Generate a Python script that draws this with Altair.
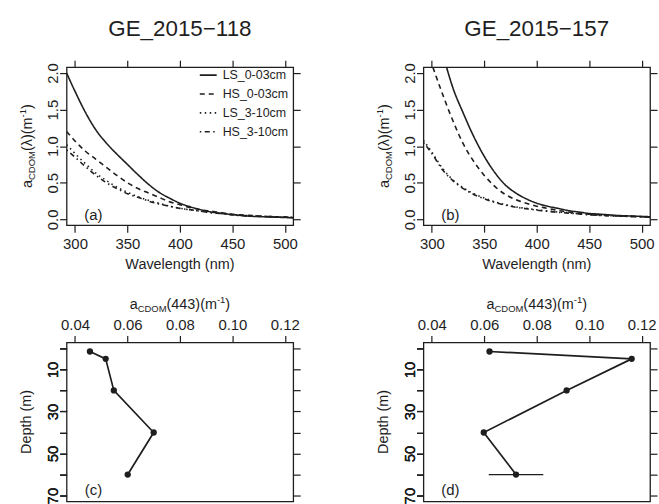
import altair as alt
import pandas as pd

FONT = "Liberation Sans"
INK = "#1e1e1e"

# ---------------- data ----------------
SERIES = ["LS_0-03cm", "HS_0-03cm", "LS_3-10cm", "HS_3-10cm"]
DASHES = [[1, 0], [5, 4], [1.5, 3.5], [1.5, 3.5, 5, 3.5]]

WL = [292, 300, 310, 320, 330, 340, 350, 360, 370, 380, 390, 400,
      410, 420, 430, 440, 450, 460, 470, 480, 490, 500, 508]

# GE_2015-118  (panel a)
A_LS0 = [2.00, 1.75, 1.46, 1.22, 1.04, 0.89, 0.75, 0.61, 0.48, 0.37, 0.29, 0.22,
         0.17, 0.13, 0.10, 0.08, 0.065, 0.05, 0.04, 0.035, 0.03, 0.025, 0.02]
A_HS0 = [1.20, 1.07, 0.93, 0.82, 0.71, 0.60, 0.50, 0.42, 0.36, 0.30, 0.24, 0.20,
         0.16, 0.13, 0.11, 0.09, 0.07, 0.06, 0.05, 0.04, 0.035, 0.03, 0.025]
A_LS3 = [1.02, 0.90, 0.76, 0.63, 0.53, 0.44, 0.37, 0.31, 0.26, 0.22, 0.18, 0.15,
         0.13, 0.11, 0.09, 0.08, 0.065, 0.055, 0.045, 0.04, 0.035, 0.03, 0.025]
A_HS3 = [0.95, 0.85, 0.72, 0.60, 0.50, 0.42, 0.35, 0.30, 0.25, 0.21, 0.18, 0.15,
         0.13, 0.11, 0.09, 0.08, 0.06, 0.05, 0.045, 0.04, 0.035, 0.03, 0.025]

# GE_2015-157  (panel b)
WL_B_LS0 = [314, 320, 330, 340, 350, 360, 370, 380, 390, 400, 410, 420,
            430, 440, 450, 460, 470, 480, 490, 500, 508]
B_LS0 = [2.08, 1.80, 1.45, 1.13, 0.86, 0.64, 0.47, 0.36, 0.28, 0.22, 0.18, 0.15,
         0.12, 0.10, 0.08, 0.07, 0.06, 0.05, 0.045, 0.04, 0.035]
WL_B_HS0 = [301, 310, 320, 330, 340, 350, 360, 370, 380, 390, 400, 410,
            420, 430, 440, 450, 460, 470, 480, 490, 500, 508]
B_HS0 = [2.08, 1.72, 1.35, 1.03, 0.79, 0.60, 0.45, 0.34, 0.27, 0.22, 0.18, 0.15,
         0.12, 0.10, 0.085, 0.07, 0.06, 0.05, 0.045, 0.04, 0.035, 0.03]
B_LS3 = [1.08, 0.92, 0.70, 0.54, 0.43, 0.35, 0.29, 0.24, 0.20, 0.17, 0.15, 0.13,
         0.115, 0.10, 0.09, 0.075, 0.065, 0.055, 0.05, 0.045, 0.04, 0.035, 0.03]
B_HS3 = [1.05, 0.90, 0.68, 0.53, 0.42, 0.34, 0.28, 0.23, 0.195, 0.165, 0.145, 0.125,
         0.11, 0.095, 0.085, 0.072, 0.062, 0.054, 0.048, 0.043, 0.038, 0.034, 0.03]

# depth profiles (panels c, d)
DEPTH = [1.5, 5, 20, 40, 60]
C_VAL = [0.0457, 0.0517, 0.0548, 0.0700, 0.0601]
C_ERR = [0, 0, 0, 0, 0]
D_VAL = [0.0620, 0.1162, 0.0914, 0.0598, 0.0721]
D_ERR = [0, 0, 0, 0, 0.0104]

X_TICKS_TOP = [300, 350, 400, 450, 500]
Y_TICKS_TOP = [0, 0.5, 1.0, 1.5, 2.0]
X_TICKS_BOT = [0.04, 0.06, 0.08, 0.10, 0.12]
Y_TICKS_BOT = [0, 10, 20, 30, 40, 50, 60, 70]

# ---------------- layout ----------------
W, HT, HB = 228, 159, 160

AX = dict(title=None, domain=False, grid=False, ticks=True, tickSize=7,
          tickWidth=1.2, tickColor=INK, labelFont=FONT, labelFontSize=15,
          labelColor=INK)

CW = {'a': 556, 'C': 722, 'D': 722, 'O': 778, 'M': 833, '(': 333, ')': 333,
      'λ': 500, 'm': 833, '-': 333, '1': 556, '4': 556, '3': 556}


def tw(s, size):
    return sum(CW.get(c, 556) for c in s) / 1000.0 * size


def txt(s, x, y, size, angle=0, align="center", baseline="alphabetic", dx=0, dy=0):
    kw = dict(align=align, baseline=baseline, fontSize=size, font=FONT,
              color=INK, dx=dx, dy=dy)
    if angle:
        kw["angle"] = angle
    return alt.Chart(pd.DataFrame({"t": [s]})).mark_text(**kw).encode(
        x=alt.value(x), y=alt.value(y), text="t:N")


def composite(pieces, x, y, angle=0):
    total = sum(tw(t, s) for t, s, _ in pieces)
    off = -total / 2.0
    out = []
    for t, s, sh in pieces:
        out.append(txt(t, x, y, s, angle=angle, align="left", dx=off, dy=sh))
        off += tw(t, s)
    return out


def spectra_df(entries):
    rows = []
    for name, wl, vals in entries:
        for w, v in zip(wl, vals):
            rows.append({"series": name, "wl": w, "a": v})
    return pd.DataFrame(rows)


def top_panel(entries, title, label, legend):
    df = spectra_df(entries)
    xs = alt.Scale(domain=[292, 508], nice=False, zero=False)
    ys = alt.Scale(domain=[-0.08, 2.08], nice=False, zero=False)
    if legend:
        leg = alt.Legend(orient="none", legendX=133, legendY=-1.5, title=None,
                         symbolType="stroke", symbolSize=289, symbolStrokeWidth=1.6,
                         symbolStrokeColor=INK, labelFont=FONT, labelFontSize=12.5,
                         labelColor=INK, rowPadding=3, labelOffset=5, padding=0)
    else:
        leg = None
    lines = alt.Chart(df).mark_line(clip=True, strokeWidth=1.6, color=INK,
                                    interpolate="monotone").encode(
        x=alt.X("wl:Q", scale=xs,
                axis=alt.Axis(orient="bottom", values=X_TICKS_TOP, labelPadding=4, **AX)),
        y=alt.Y("a:Q", scale=ys,
                axis=alt.Axis(orient="left", values=Y_TICKS_TOP, format=".1f",
                              labelAngle=270, labelAlign="center",
                              labelBaseline="alphabetic", labelPadding=2, **AX)),
        strokeDash=alt.StrokeDash("series:N", scale=alt.Scale(domain=SERIES, range=DASHES),
                                  legend=leg),
        detail="series:N",
    )
    ghost = alt.Chart(df).mark_point(opacity=0).encode(
        x=alt.X("wl:Q", scale=xs,
                axis=alt.Axis(orient="top", values=X_TICKS_TOP, labels=False, **AX)),
        y=alt.Y("a:Q", scale=ys,
                axis=alt.Axis(orient="right", values=Y_TICKS_TOP, labels=False, **AX)),
    )
    texts = [txt(title, W / 2, -31, 22.5),
             txt("Wavelength (nm)", W / 2, HT + 40, 14.5, baseline="middle"),
             txt(label, 27, 148.6, 15, baseline="middle")]
    texts += composite([("a", 14.5, 0), ("CDOM", 9.5, 3.5), ("(λ)(m", 14.5, 0),
                        ("-1", 9.5, -6), (")", 14.5, 0)], -35, HT / 2, angle=270)
    return alt.layer(lines, ghost, *texts).properties(width=W, height=HT)


def depth_panel(vals, errs, label):
    lo = [v - e for v, e in zip(vals, errs)]
    hi = [v + e for v, e in zip(vals, errs)]
    df = pd.DataFrame({"depth": DEPTH, "v": vals, "lo": lo, "hi": hi})
    xs = alt.Scale(domain=[0.0368, 0.1232], nice=False, zero=False)
    ys = alt.Scale(domain=[-2.8, 72.8], nice=False, zero=False, reverse=True)
    x_axis = alt.Axis(orient="top", values=X_TICKS_BOT, format=".2f",
                      labelBaseline="alphabetic", labelPadding=6, **AX)
    y_axis = alt.Axis(orient="left", values=Y_TICKS_BOT, labelAngle=270,
                      labelAlign="center", labelBaseline="alphabetic",
                      labelPadding=2,
                      labelExpr="datum.value % 20 == 10 ? datum.label : ''", **AX)
    y_axis_r = alt.Axis(orient="right", values=Y_TICKS_BOT, labels=False, **AX)
    base = alt.Chart(df)
    line = base.mark_line(strokeWidth=1.7, color=INK).encode(
        x=alt.X("v:Q", scale=xs, axis=x_axis),
        y=alt.Y("depth:Q", scale=ys, axis=y_axis),
        order="depth:Q",
    )
    err = base.transform_filter("datum.hi > datum.lo").mark_rule(
        strokeWidth=1.2, color=INK).encode(
        x=alt.X("lo:Q", scale=xs, axis=x_axis), x2="hi:Q",
        y=alt.Y("depth:Q", scale=ys, axis=y_axis))
    pts = base.mark_circle(size=40, color=INK, opacity=1).encode(
        x=alt.X("v:Q", scale=xs, axis=x_axis),
        y=alt.Y("depth:Q", scale=ys, axis=y_axis))
    ghost = base.mark_point(opacity=0).encode(
        x=alt.X("v:Q", scale=xs, axis=x_axis),
        y=alt.Y("depth:Q", scale=ys, axis=y_axis_r),
    )
    texts = [txt("Depth (m)", -36, HB / 2, 14.5, angle=270),
             txt(label, 27, 148.6, 15, baseline="middle")]
    texts += composite([("a", 14.5, 0), ("CDOM", 9.5, 3.5), ("(443)(m", 14.5, 0),
                        ("-1", 9.5, -6), (")", 14.5, 0)], W / 2, -34)
    return alt.layer(line, err, pts, ghost, *texts).properties(width=W, height=HB)


pa = top_panel([(SERIES[0], WL, A_LS0), (SERIES[1], WL, A_HS0),
                (SERIES[2], WL, A_LS3), (SERIES[3], WL, A_HS3)],
               "GE_2015\u2212118", "(a)", True)
pb = top_panel([(SERIES[0], WL_B_LS0, B_LS0), (SERIES[1], WL_B_HS0, B_HS0),
                (SERIES[2], WL, B_LS3), (SERIES[3], WL, B_HS3)],
               "GE_2015\u2212157", "(b)", False)
pc = depth_panel(C_VAL, C_ERR, "(c)")
pd_ = depth_panel(D_VAL, D_ERR, "(d)")

chart = alt.concat(pa, pb, pc, pd_, columns=2, bounds="flush",
                   spacing={"row": 118, "column": 131}).resolve_scale(
    x="independent", y="independent", strokeDash="independent").resolve_legend(
    strokeDash="independent").configure_view(
    stroke=INK, strokeWidth=1.3).properties(
    padding={"left": 17, "top": 16, "right": 0, "bottom": 0},
    background="white")

chart.save("out.html", embed_options={"renderer": "svg", "actions": False})
